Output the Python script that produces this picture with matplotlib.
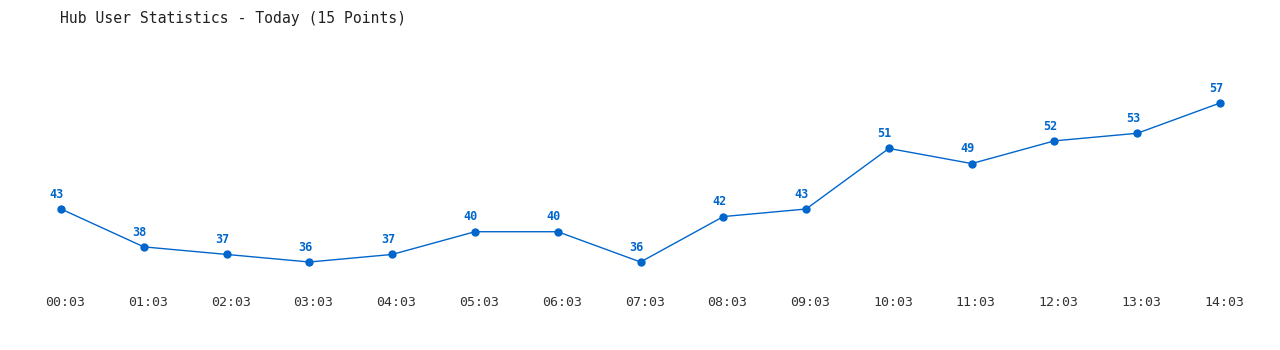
import matplotlib.pyplot as plt
import matplotlib.transforms as mtransforms

# hourly user counts for today
times = ["00:03", "01:03", "02:03", "03:03", "04:03", "05:03", "06:03", "07:03",
         "08:03", "09:03", "10:03", "11:03", "12:03", "13:03", "14:03"]
users = [43, 38, 37, 36, 37, 40, 40, 36, 42, 43, 51, 49, 52, 53, 57]

blue = "#0066cc"
fig = plt.figure(figsize=(12.8, 3.5), dpi=100)
ax = fig.add_axes([0, 0, 1, 1])

xs = list(range(len(users)))
ax.plot(xs, users, color=blue, lw=1, marker="o", ms=5)
for x, v in zip(xs, users):
    ax.annotate(str(v), (x, v), xytext=(-3, 6), textcoords="offset points",
                ha="center", va="bottom", color=blue, fontsize=8.5,
                fontweight="bold", family="DejaVu Sans Mono")

ax.set_xlim(-0.737, 14.724)
ax.set_ylim(24.38, 70.6)
ax.axis("off")

trans = mtransforms.blended_transform_factory(ax.transData, ax.transAxes)
for x, t in zip(xs, times):
    ax.text(x + 0.05, 1 - 303 / 350, t, transform=trans, ha="center", va="center",
            fontsize=9.5, color="#333333", family="DejaVu Sans Mono")

fig.text(60 / 1280, 1 - 18 / 350, "Hub User Statistics - Today (15 Points)",
         ha="left", va="center", fontsize=10.6, color="#222222",
         family="DejaVu Sans Mono")

fig.savefig("out.png", dpi=100, facecolor="white")
